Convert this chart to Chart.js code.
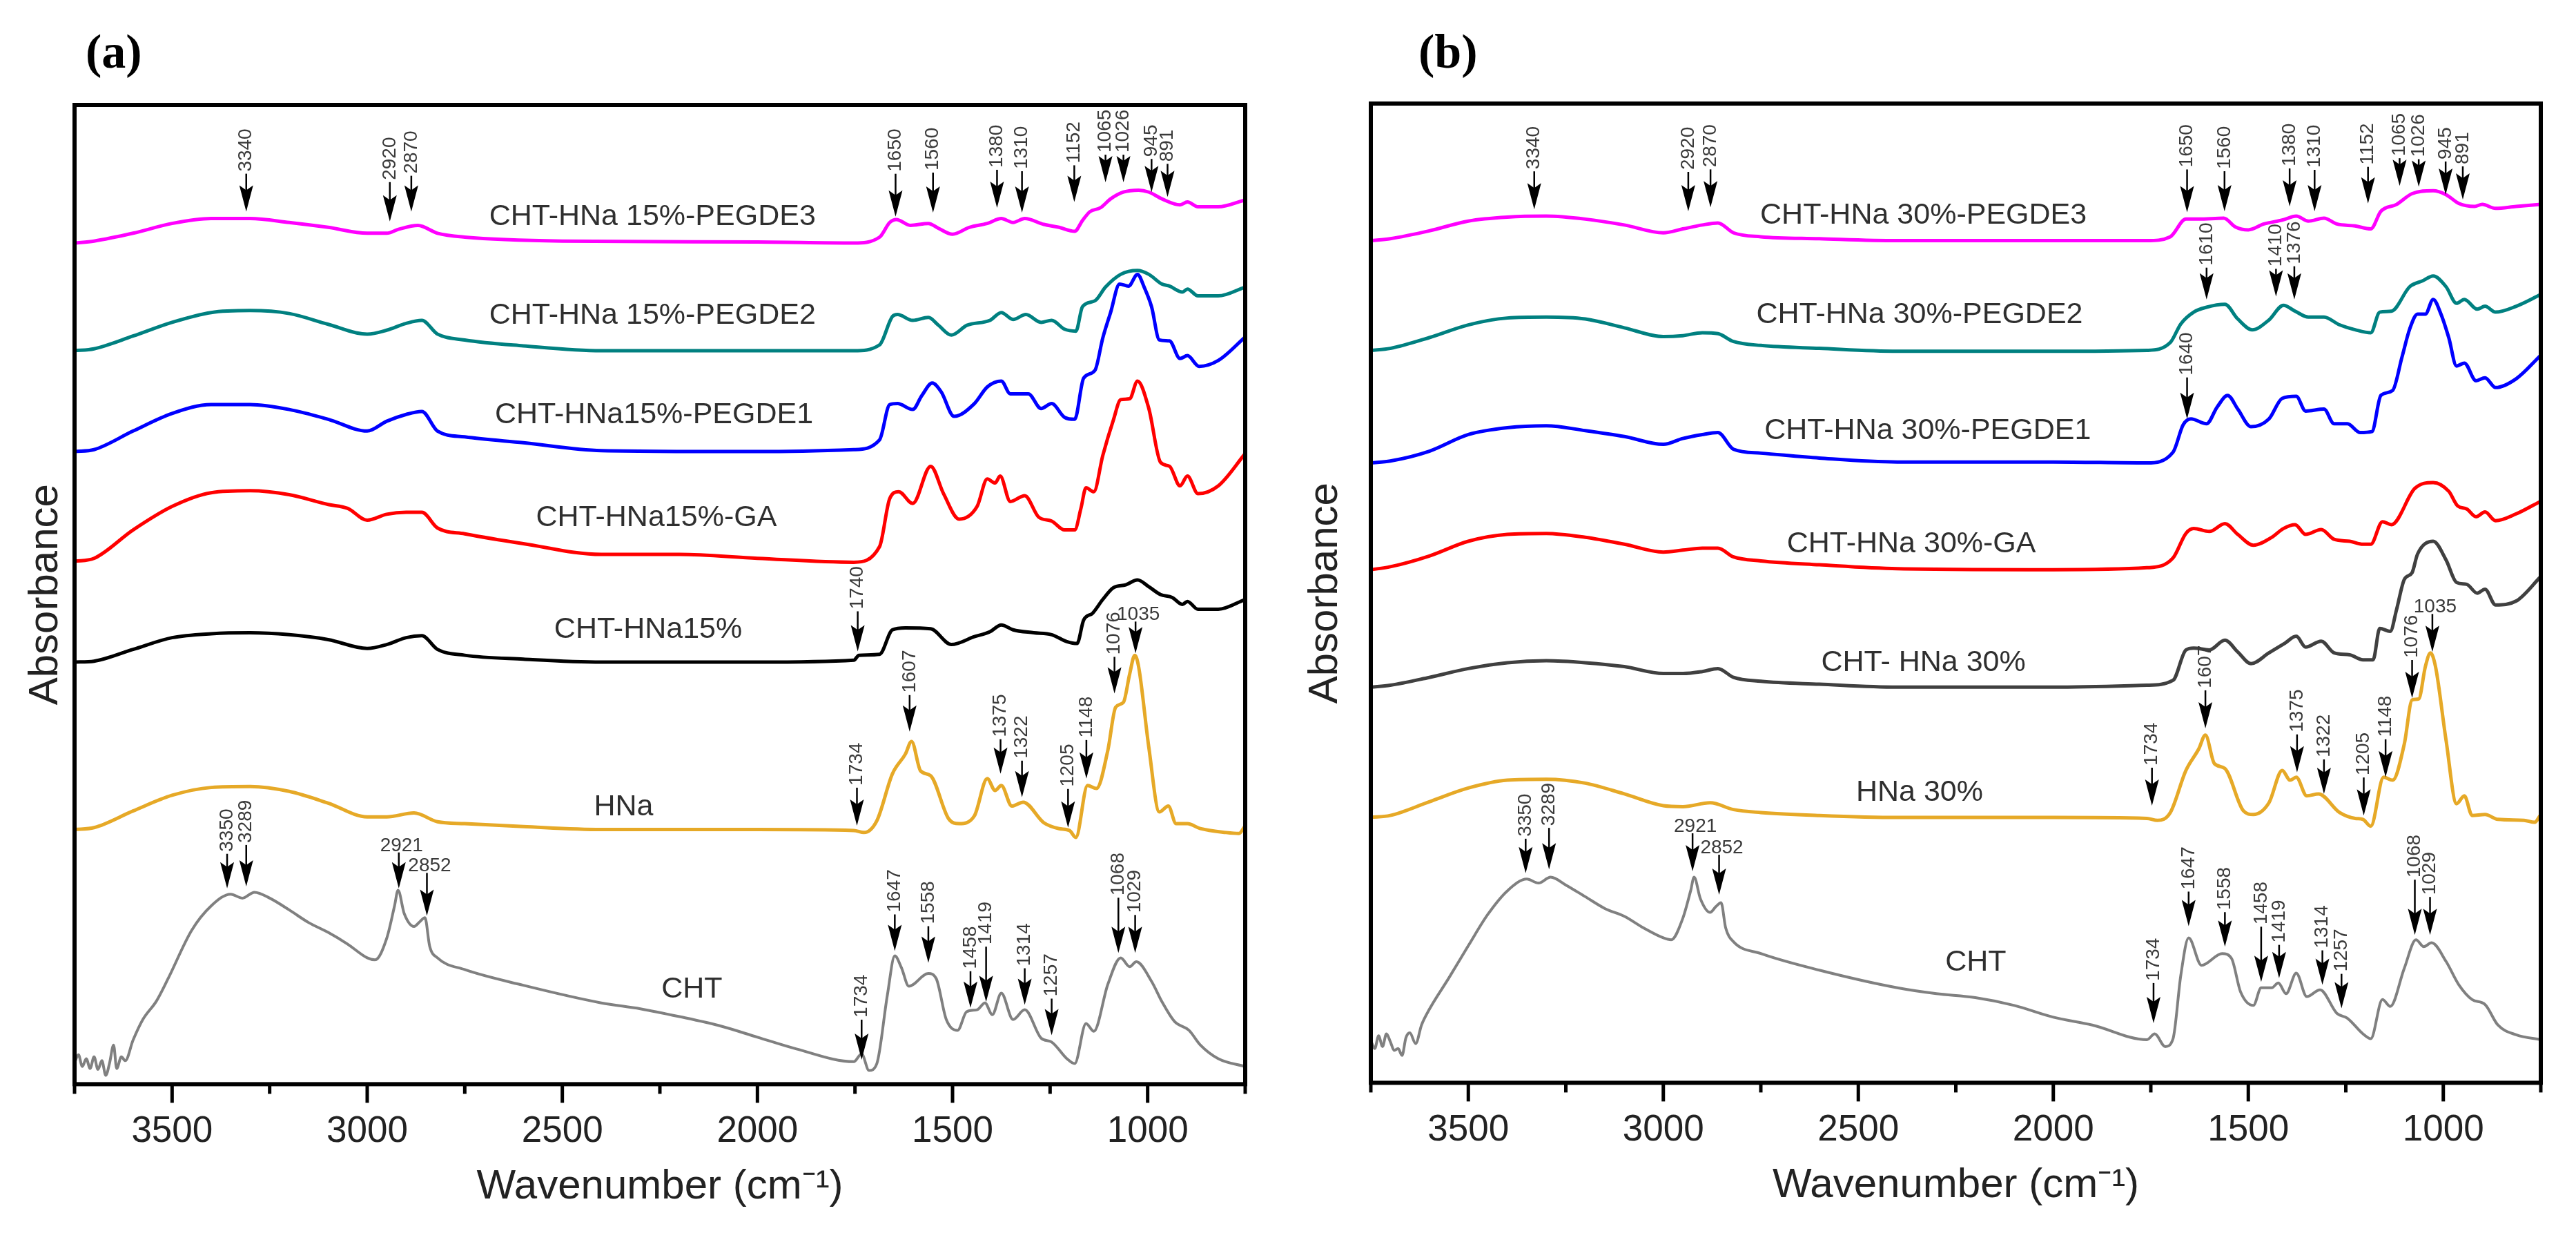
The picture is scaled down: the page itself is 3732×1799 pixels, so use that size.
<!DOCTYPE html>
<html>
<head>
<meta charset="utf-8">
<script src="https://cdn.jsdelivr.net/npm/chart.js@4.4.0/dist/chart.umd.min.js"></script>
<style>
  body { margin: 0; background: #fff; }
  .panel { position: absolute; top: 0; width: 1866px; height: 1799px; }
</style>
</head>
<body>
<div class="panel" style="left:0"><canvas id="chartA" width="1866" height="1799"></canvas></div>
<div class="panel" style="left:1866px"><canvas id="chartB" width="1866" height="1799"></canvas></div>
<script>
// FTIR spectra, [wavenumber, absorbance (a.u., offset)]

// panel (a) - 15%
const pegde3_15 = [[3750,85.9],[3700,86.1],[3600,86.9],[3500,87.9],[3400,88.4],[3300,88.4],[3200,88.0],[3100,87.5],[3000,86.9],[2950,86.9],[2920,87.3],[2870,87.7],[2820,86.9],[2750,86.5],[2500,86.1],[2000,86.0],[1753,85.9],[1687,86.5],[1661,88.0],[1644,88.3],[1608,87.7],[1562,87.9],[1536,87.4],[1500,86.8],[1457,87.5],[1411,87.9],[1375,88.4],[1345,88.0],[1315,88.4],[1266,87.8],[1227,87.5],[1187,87.1],[1167,88.2],[1148,89.1],[1121,89.5],[1095,90.4],[1062,91.1],[1023,91.3],[997,91.1],[963,90.4],[917,89.8],[898,90.1],[871,89.6],[819,89.6],[750,90.3]];
const pegde2_15 = [[3750,74.9],[3700,75.1],[3600,76.4],[3500,77.8],[3400,78.8],[3300,79.0],[3200,78.7],[3100,77.6],[3000,76.6],[2950,77.0],[2900,77.7],[2860,78.0],[2820,76.6],[2750,76.0],[2600,75.4],[2400,74.9],[2000,74.9],[1753,74.9],[1687,75.5],[1654,78.4],[1641,78.6],[1602,78.0],[1562,78.3],[1536,77.5],[1503,76.5],[1463,77.5],[1404,78.0],[1375,78.8],[1345,78.1],[1312,78.6],[1273,77.8],[1246,78.0],[1213,77.1],[1184,76.9],[1167,79.4],[1135,80.0],[1108,81.4],[1069,82.7],[1026,83.1],[997,82.7],[963,81.7],[944,81.5],[911,80.9],[898,81.2],[871,80.5],[819,80.5],[750,81.4]];
const pegde1_15 = [[3750,64.6],[3700,64.8],[3600,66.7],[3500,68.5],[3400,69.4],[3300,69.4],[3200,68.9],[3100,67.9],[3000,66.7],[2950,67.7],[2900,68.4],[2860,68.7],[2820,66.7],[2750,66.1],[2600,65.5],[2400,64.7],[2000,64.6],[1753,64.8],[1687,65.8],[1661,69.4],[1641,69.5],[1602,68.9],[1579,70.3],[1552,71.6],[1529,70.7],[1496,68.2],[1444,69.5],[1411,71.2],[1375,71.8],[1352,70.5],[1306,70.5],[1273,69.0],[1246,69.5],[1213,68.1],[1187,67.9],[1164,72.1],[1135,72.9],[1115,76.2],[1095,78.8],[1072,81.7],[1049,81.5],[1026,82.7],[1009,81.4],[990,79.4],[970,76.0],[944,75.9],[917,74.1],[898,74.4],[868,73.3],[819,73.9],[750,76.3]];
const ga_15 = [[3750,53.4],[3700,53.7],[3600,56.6],[3500,59.0],[3400,60.4],[3300,60.6],[3200,60.2],[3100,59.2],[3050,58.8],[3000,57.6],[2950,58.2],[2900,58.4],[2860,58.4],[2820,56.8],[2750,56.2],[2600,55.2],[2400,54.1],[2200,54.1],[2000,53.7],[1753,53.3],[1687,54.9],[1661,59.8],[1638,60.5],[1602,59.3],[1556,63.1],[1523,60.3],[1483,57.7],[1437,59.0],[1411,61.8],[1391,61.4],[1378,62.1],[1352,59.5],[1315,60.1],[1279,57.9],[1246,57.5],[1213,56.6],[1187,56.6],[1171,58.8],[1158,60.9],[1138,60.5],[1115,64.2],[1088,67.8],[1069,69.9],[1046,70.0],[1026,71.8],[997,69.0],[967,63.5],[944,63.1],[917,61.1],[898,62.1],[871,60.3],[819,61.1],[750,64.4]];
const chtHna_15 = [[3750,43.1],[3700,43.2],[3600,44.4],[3500,45.6],[3400,46.0],[3300,46.1],[3200,45.9],[3100,45.4],[3000,44.5],[2950,44.9],[2900,45.6],[2860,45.8],[2820,44.4],[2750,43.8],[2600,43.4],[2400,43.1],[2000,43.1],[1753,43.3],[1740,43.8],[1687,43.9],[1654,46.4],[1621,46.6],[1556,46.5],[1503,44.9],[1444,45.7],[1404,46.2],[1375,46.9],[1345,46.4],[1292,46.1],[1246,45.9],[1207,45.2],[1181,45.0],[1164,47.4],[1141,48.1],[1115,49.5],[1088,50.7],[1056,51.0],[1026,51.5],[997,50.8],[967,50.0],[937,49.7],[911,49.0],[898,49.3],[871,48.5],[819,48.5],[750,49.5]];
const hna_15 = [[3750,26.0],[3700,26.2],[3600,27.9],[3500,29.5],[3400,30.3],[3300,30.4],[3200,29.9],[3100,28.7],[3000,27.3],[2950,27.3],[2880,27.7],[2820,26.8],[2750,26.6],[2600,26.3],[2400,26.0],[2000,26.0],[1753,25.9],[1727,25.7],[1694,26.9],[1654,31.7],[1621,33.7],[1605,35.0],[1582,32.0],[1556,31.5],[1510,27.1],[1483,26.6],[1444,27.4],[1411,31.2],[1391,30.0],[1375,30.5],[1348,28.4],[1319,28.8],[1266,26.7],[1227,26.1],[1200,25.9],[1184,25.2],[1154,30.5],[1131,30.2],[1102,34.1],[1082,38.5],[1062,39.0],[1046,41.9],[1033,43.8],[1023,42.6],[997,34.4],[970,27.8],[947,28.4],[927,26.6],[898,26.6],[865,26.1],[799,25.7],[766,25.6],[750,26.4]];
const cht_15 = [[3750,2.2],[3740,3.0],[3730,1.8],[3720,2.6],[3710,1.6],[3700,2.8],[3690,1.5],[3680,2.4],[3670,0.9],[3660,2.2],[3650,4.0],[3642,1.6],[3630,2.8],[3620,2.4],[3600,4.5],[3575,6.6],[3540,8.5],[3510,10.8],[3450,15.7],[3400,18.2],[3350,19.4],[3320,19.0],[3289,19.6],[3250,19.0],[3200,17.8],[3150,16.5],[3100,15.5],[3050,14.3],[3000,12.9],[2980,12.7],[2950,14.9],[2930,18.2],[2921,19.8],[2905,17.4],[2880,16.1],[2865,16.6],[2852,17.0],[2840,14.1],[2820,12.9],[2750,11.7],[2600,10.1],[2400,8.3],[2300,7.7],[2200,6.9],[2100,6.0],[2000,4.8],[1900,3.6],[1753,2.3],[1733,3.1],[1714,1.4],[1694,2.1],[1667,9.1],[1648,13.1],[1631,11.9],[1612,10.0],[1562,11.3],[1542,10.8],[1516,6.6],[1487,5.5],[1464,7.4],[1437,7.6],[1417,8.3],[1398,7.1],[1375,9.3],[1345,6.6],[1315,7.6],[1273,4.7],[1246,4.3],[1207,2.6],[1187,2.1],[1158,6.2],[1138,5.4],[1102,10.2],[1069,12.9],[1046,12.0],[1029,12.5],[990,10.5],[963,8.4],[931,6.4],[894,5.5],[865,4.0],[819,2.6],[750,1.8]];

// panel (b) - 30%
const pegde3_30 = [[3750,86.0],[3700,86.2],[3600,87.0],[3500,88.0],[3400,88.4],[3300,88.5],[3200,88.2],[3100,87.6],[3000,86.8],[2950,87.2],[2900,87.6],[2860,87.8],[2820,86.8],[2750,86.4],[2600,86.2],[2400,86.0],[2000,86.0],[1760,86.0],[1700,86.4],[1660,88.2],[1627,88.2],[1563,88.3],[1533,87.4],[1500,87.1],[1460,87.7],[1413,88.1],[1377,88.5],[1346,88.0],[1306,88.3],[1273,87.7],[1226,87.5],[1186,87.2],[1160,89.0],[1120,89.7],[1080,90.8],[1026,91.1],[993,90.7],[960,89.8],[920,89.5],[900,89.7],[866,89.3],[813,89.5],[750,89.7]];
const pegde2_30 = [[3750,74.8],[3700,75.0],[3600,76.1],[3500,77.4],[3400,78.1],[3300,78.2],[3200,78.0],[3100,77.1],[3000,76.2],[2950,76.3],[2900,76.6],[2860,76.5],[2820,75.7],[2750,75.3],[2600,75.0],[2400,74.7],[2000,74.7],[1760,74.8],[1700,75.6],[1673,77.5],[1640,78.7],[1607,79.2],[1560,79.5],[1527,78.0],[1490,76.9],[1447,77.9],[1410,79.4],[1380,78.8],[1346,78.2],[1306,78.2],[1266,77.4],[1226,76.9],[1186,76.6],[1163,78.7],[1133,78.8],[1086,81.3],[1053,81.9],[1026,82.4],[993,81.3],[966,79.6],[946,80.0],[913,79.0],[893,79.3],[866,78.7],[813,79.3],[750,80.5]];
const pegde1_30 = [[3750,63.3],[3700,63.5],[3600,64.5],[3500,66.2],[3400,66.9],[3300,67.1],[3200,66.6],[3100,66.0],[3000,65.2],[2950,65.8],[2900,66.2],[2860,66.4],[2820,64.7],[2750,64.3],[2600,63.8],[2400,63.4],[2000,63.4],[1760,63.3],[1693,64.4],[1667,67.2],[1647,67.8],[1607,67.3],[1580,69.0],[1553,70.2],[1527,68.8],[1493,67.0],[1447,67.8],[1413,69.9],[1377,70.1],[1353,68.6],[1306,68.8],[1280,67.3],[1246,67.3],[1213,66.4],[1183,66.5],[1160,70.2],[1130,70.7],[1106,74.1],[1086,77.0],[1066,78.5],[1046,78.5],[1026,80.0],[1006,78.5],[986,76.1],[966,73.2],[946,73.5],[916,71.7],[893,72.0],[866,71.0],[813,71.9],[750,74.3]];
const ga_30 = [[3750,52.4],[3700,52.7],[3600,53.8],[3500,55.3],[3400,56.0],[3300,56.1],[3200,55.7],[3100,55.0],[3000,54.2],[2950,54.4],[2900,54.6],[2860,54.6],[2820,53.7],[2750,53.3],[2600,52.9],[2400,52.5],[2000,52.4],[1760,52.6],[1693,53.6],[1660,56.1],[1640,56.6],[1600,56.3],[1560,57.1],[1527,56.0],[1487,54.9],[1440,55.7],[1410,56.6],[1380,57.0],[1353,56.0],[1313,56.5],[1280,55.5],[1240,55.3],[1206,55.0],[1186,55.0],[1156,57.3],[1133,57.0],[1073,60.7],[1026,61.3],[986,60.4],[963,58.9],[940,58.6],[916,57.8],[893,58.3],[866,57.4],[813,58.1],[750,59.4]];
const chtHna_30 = [[3750,40.4],[3700,40.6],[3600,41.4],[3500,42.3],[3400,42.9],[3300,43.1],[3200,42.9],[3100,42.5],[3000,41.8],[2950,41.8],[2900,42.0],[2860,42.3],[2820,41.4],[2750,41.0],[2600,40.7],[2400,40.4],[2000,40.4],[1760,40.6],[1693,41.1],[1660,44.2],[1640,44.4],[1600,44.2],[1560,45.2],[1527,44.0],[1493,42.8],[1447,43.9],[1406,44.9],[1377,45.6],[1353,44.5],[1313,45.1],[1280,43.9],[1240,43.7],[1206,43.2],[1180,43.2],[1163,46.4],[1136,46.1],[1120,48.3],[1100,51.4],[1080,52.1],[1066,54.0],[1026,55.3],[993,53.4],[966,51.1],[940,50.9],[913,50.0],[893,50.4],[866,48.8],[813,49.2],[750,51.7]];
const hna_30 = [[3750,27.1],[3700,27.3],[3600,28.7],[3500,30.1],[3400,30.9],[3300,31.0],[3200,30.6],[3100,29.5],[3000,28.3],[2950,28.2],[2880,28.6],[2820,27.9],[2750,27.6],[2600,27.3],[2400,27.1],[2000,27.1],[1760,27.0],[1733,26.8],[1700,27.6],[1660,31.9],[1627,34.1],[1610,35.5],[1587,32.6],[1560,32.1],[1513,27.8],[1487,27.4],[1447,28.6],[1413,31.9],[1393,30.9],[1377,31.2],[1350,29.3],[1320,29.5],[1266,27.6],[1226,27.0],[1206,26.9],[1186,26.2],[1153,31.2],[1130,30.9],[1100,34.6],[1080,39.1],[1063,39.2],[1046,42.5],[1033,43.9],[1020,42.5],[993,35.0],[966,28.5],[946,29.3],[926,27.3],[893,27.4],[860,26.9],[793,26.8],[766,26.6],[750,27.4]];
const cht_30 = [[3750,4.3],[3740,3.5],[3730,4.8],[3720,3.7],[3710,5.0],[3700,4.2],[3690,3.3],[3680,3.5],[3670,2.8],[3660,4.6],[3650,5.1],[3635,4.0],[3620,5.9],[3600,7.5],[3550,10.7],[3500,14.0],[3450,17.2],[3400,19.6],[3350,20.8],[3320,20.4],[3289,21.0],[3250,20.2],[3200,19.0],[3150,17.8],[3100,17.0],[3050,15.8],[3000,14.8],[2980,14.6],[2950,16.8],[2930,19.6],[2921,21.0],[2905,18.8],[2880,17.4],[2865,18.0],[2852,18.4],[2840,15.8],[2820,14.4],[2750,13.2],[2600,11.5],[2400,9.7],[2300,9.1],[2200,8.7],[2100,7.9],[2000,6.7],[1900,5.9],[1760,4.4],[1740,5.0],[1713,3.7],[1693,4.5],[1673,11.0],[1653,14.8],[1620,12.0],[1567,13.2],[1543,12.7],[1520,9.3],[1487,7.9],[1467,9.7],[1440,9.7],[1423,10.2],[1403,9.1],[1377,11.2],[1350,8.8],[1316,9.5],[1273,7.1],[1246,6.6],[1206,5.0],[1186,4.5],[1156,8.5],[1136,7.8],[1100,11.7],[1070,14.6],[1050,13.9],[1030,14.3],[993,12.4],[960,10.0],[926,8.5],[893,8.0],[860,5.9],[813,4.9],[750,4.4]];

// curve names and where they sit (wavenumber, absorbance)
const namesA = ["CHT-HNa 15%-PEGDE3", "CHT-HNa 15%-PEGDE2", "CHT-HNa15%-PEGDE1", "CHT-HNa15%-GA", "CHT-HNa15%", "HNa", "CHT"];
const nameXA = [2269, 2269, 2265, 2259, 2280, 2343, 2168];
const nameYA = [88.6, 78.5, 68.3, 57.8, 46.4, 28.3, 9.7];
const namesB = ["CHT-HNa 30%-PEGDE3", "CHT-HNa 30%-PEGDE2", "CHT-HNa 30%-PEGDE1", "CHT-HNa 30%-GA", "CHT- HNa 30%", "HNa 30%", "CHT"];
const nameXB = [2333, 2343, 2322, 2364, 2333, 2343, 2199];
const nameYB = [88.6, 78.4, 66.6, 55.0, 42.9, 29.6, 12.3];

const colors = ["#ff00ff", "#008080", "#0000ff", "#ff0000", "#000000", "#e6a927", "#808080"];
const colorsB = ["#ff00ff", "#008080", "#0000ff", "#ff0000", "#404040", "#e6a927", "#808080"];

// peak arrows: [label, wavenumber drawn at, absorbance at arrow tip, stem px, horizontal label]
const marksA = [
  ["3340", 3310, 89.1, 55], ["2920", 2942, 88.1, 57], ["2870", 2887, 89.1, 52],
  ["1650", 1646, 88.6, 62], ["1560", 1550, 89.0, 58], ["1380", 1386, 89.5, 55], ["1310", 1322, 89.0, 60],
  ["1152", 1188, 90.1, 53], ["1065", 1108, 92.1, 40], ["1026", 1062, 92.1, 40], ["945", 990, 91.1, 48], ["891", 949, 90.6, 48],
  ["1740", 1743, 44.2, 58],
  ["1734", 1745, 26.4, 55], ["1607", 1610, 36.0, 53], ["1375", 1377, 31.7, 50], ["1322", 1322, 29.3, 53],
  ["1205", 1204, 26.2, 56], ["1148", 1157, 31.2, 56], ["1076", 1085, 39.9, 53], ["1035", 1031, 44.0, 46, true],
  ["3350", 3359, 20.0, 50], ["3289", 3310, 20.2, 60], ["2921", 2919, 20.0, 52, true], ["2852", 2847, 17.2, 62, true],
  ["1734", 1733, 2.5, 58], ["1647", 1648, 13.6, 53], ["1558", 1562, 12.4, 53], ["1458", 1454, 7.8, 53],
  ["1419", 1414, 8.4, 80], ["1314", 1315, 8.1, 53], ["1257", 1246, 5.0, 53], ["1068", 1075, 13.4, 80], ["1029", 1032, 13.4, 55]
];
const marksB = [
  ["3340", 3331, 89.2, 55], ["2920", 2936, 89.0, 57], ["2870", 2879, 89.4, 55],
  ["1650", 1657, 88.9, 62], ["1560", 1561, 89.0, 58], ["1380", 1394, 89.5, 55], ["1310", 1330, 89.0, 60],
  ["1152", 1193, 89.8, 53], ["1065", 1112, 91.6, 40], ["1026", 1063, 91.5, 40], ["945", 994, 90.7, 48], ["891", 950, 90.2, 48],
  ["1610", 1607, 80.0, 46], ["1410", 1429, 80.3, 40], ["1376", 1382, 80.0, 48],
  ["1640", 1657, 67.8, 60],
  ["1734", 1747, 28.3, 55], ["1607", 1610, 36.2, 55], ["1375", 1375, 31.7, 55], ["1322", 1306, 29.5, 50],
  ["1205", 1204, 27.3, 55], ["1148", 1148, 31.2, 55], ["1076", 1080, 39.3, 55], ["1035", 1028, 44.0, 55, true],
  ["3350", 3353, 21.4, 50], ["3289", 3293, 21.8, 60], ["2921", 2925, 21.6, 55, true], ["2852", 2857, 19.2, 58, true],
  ["1734", 1743, 6.1, 58], ["1647", 1653, 16.0, 50], ["1558", 1560, 13.9, 50], ["1458", 1467, 10.3, 80],
  ["1419", 1421, 10.7, 48], ["1314", 1310, 10.0, 50], ["1257", 1261, 7.6, 50], ["1068", 1073, 15.1, 80], ["1029", 1034, 15.1, 55]
];

const seriesA = [pegde3_15, pegde2_15, pegde1_15, ga_15, chtHna_15, hna_15, cht_15];
const seriesB = [pegde3_30, pegde2_30, pegde1_30, ga_30, chtHna_30, hna_30, cht_30];

// frame, ticks, peak arrows, curve names, panel tag
const ftirPlugin = {
  id: "ftir",
  afterDatasetsDraw(chart, args, opts) {
    const { ctx, chartArea: a } = chart;
    const x = chart.scales.x, y = chart.scales.y;
    ctx.save();

    ctx.fillStyle = "#2f2f2f";
    ctx.font = '43px "Liberation Sans"';
    ctx.textAlign = "center";
    ctx.textBaseline = "middle";
    opts.names.forEach((n, i) => {
      ctx.fillText(n, x.getPixelForValue(opts.nameX[i]), y.getPixelForValue(opts.nameY[i]));
    });

    opts.marks.forEach((m) => {
      const px = x.getPixelForValue(m[1]);
      const tip = y.getPixelForValue(m[2]);
      const stem = m[3];
      ctx.strokeStyle = "#000";
      ctx.lineWidth = 2.5;
      ctx.beginPath();
      ctx.moveTo(px, tip - stem);
      ctx.lineTo(px, tip - 30);
      ctx.stroke();
      ctx.fillStyle = "#000";
      ctx.beginPath();
      ctx.moveTo(px, tip);
      ctx.lineTo(px - 10, tip - 38);
      ctx.lineTo(px, tip - 31);
      ctx.lineTo(px + 10, tip - 38);
      ctx.closePath();
      ctx.fill();
      ctx.fillStyle = "#3a3a3a";
      ctx.font = '28px "Liberation Sans"';
      if (m[4]) {
        ctx.textAlign = "center";
        ctx.textBaseline = "alphabetic";
        ctx.fillText(m[0], px + 4, tip - stem - 2);
      } else {
        ctx.save();
        ctx.translate(px, tip - stem - 3);
        ctx.rotate(-Math.PI / 2);
        ctx.textAlign = "left";
        ctx.textBaseline = "middle";
        ctx.fillText(m[0], 0, 0);
        ctx.restore();
      }
    });

    ctx.strokeStyle = "#000";
    ctx.lineWidth = 6;
    ctx.strokeRect(a.left, a.top, a.right - a.left, a.bottom - a.top);
    ctx.lineWidth = 5;
    x.ticks.forEach((t) => {
      const px = x.getPixelForValue(t.value);
      const len = t.value % 500 === 0 ? 27 : 14;
      ctx.beginPath();
      ctx.moveTo(px, a.bottom);
      ctx.lineTo(px, a.bottom + len);
      ctx.stroke();
    });

    ctx.fillStyle = "#000";
    ctx.font = 'bold 70px "Liberation Serif"';
    ctx.textAlign = "left";
    ctx.textBaseline = "middle";
    ctx.fillText(opts.tag, opts.tagX, 80);
    ctx.restore();
  },
};

function drawPanel(id, series, lineColors, names, nameX, nameY, marks, tag, tagX, pad, yPad) {
  new Chart(document.getElementById(id), {
    type: "scatter",
    data: {
      datasets: series.map((s, i) => ({
        data: s.map((p) => ({ x: p[0], y: p[1] })),
        showLine: true,
        borderColor: lineColors[i],
        borderWidth: i === 6 ? 4 : 5,
        pointRadius: 0,
        cubicInterpolationMode: "monotone",
        fill: false,
      })),
    },
    options: {
      responsive: false,
      animation: false,
      devicePixelRatio: 1,
      layout: { padding: pad },
      plugins: {
        legend: { display: false },
        tooltip: { enabled: false },
        ftir: { names: names, nameX: nameX, nameY: nameY, marks: marks, tag: tag, tagX: tagX },
      },
      scales: {
        x: {
          type: "linear",
          min: 750,
          max: 3750,
          reverse: true,
          border: { display: false },
          grid: { display: true, drawOnChartArea: false, drawTicks: true, tickLength: 27, tickColor: "rgba(0,0,0,0)" },
          ticks: {
            stepSize: 250,
            autoSkip: false,
            maxRotation: 0,
            padding: 10,
            color: "#222",
            font: { family: "Liberation Sans", size: 53 },
            callback: (v) => (v % 500 === 0 ? String(v) : ""),
          },
          title: {
            display: true,
            text: "Wavenumber (cm⁻¹)",
            color: "#222",
            font: { family: "Liberation Sans", size: 60 },
            padding: { top: 2, bottom: 0 },
          },
        },
        y: {
          min: 0,
          max: 100,
          border: { display: false },
          grid: { display: false, drawTicks: false },
          ticks: { display: false },
          title: {
            display: true,
            text: "Absorbance",
            color: "#222",
            font: { family: "Liberation Sans", size: 60 },
            padding: yPad,
          },
        },
      },
    },
    plugins: [ftirPlugin],
  });
}

drawPanel("chartA", seriesA, colors, namesA, nameXA, nameYA, marksA, "(a)", 124,
  { left: 20, right: 62, top: 152, bottom: 44 }, { top: 10, bottom: 6 });
drawPanel("chartB", seriesB, colorsB, namesB, nameXB, nameYB, marksB, "(b)", 189,
  { left: 10, right: 51, top: 150, bottom: 46 }, { top: 8, bottom: 30 });
</script>
</body>
</html>
